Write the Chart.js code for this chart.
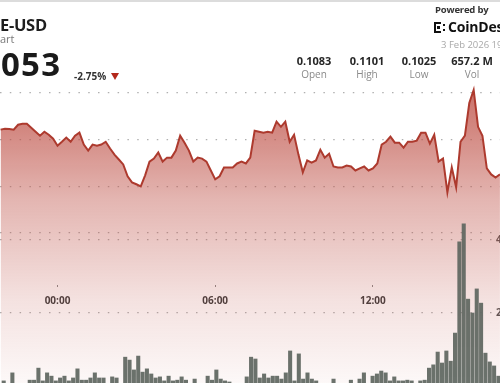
<!DOCTYPE html>
<html>
<head>
<meta charset="utf-8">
<script src="https://cdn.jsdelivr.net/npm/chart.js@4.4.1/dist/chart.umd.min.js"></script>
<style>
  html, body { margin: 0; padding: 0; background: #fff; }
  body { width: 500px; height: 383px; overflow: hidden; position: relative; font-family: "Open Sans", sans-serif; color: #222; }
  #wrap { position: absolute; left: 0; top: 0; width: 500px; height: 383px; }
  .topline { position: absolute; left: 0; top: 0; width: 500px; height: 2px; background: #dcdcdc; z-index: 3; }
  .t { position: absolute; white-space: nowrap; z-index: 2; line-height: 1; }
  .stat { position: absolute; width: 70px; text-align: center; white-space: nowrap; z-index: 2; line-height: 1; }
  .val { font-size: 11px; font-weight: 700; color: #262626; }
  .lab { font-size: 10px; color: #8a8a8a; }
  .logo { position: absolute; z-index: 2; background: #111; }
</style>
</head>
<body>
<div class="topline"></div>
<div id="wrap"><canvas id="chart"></canvas></div>

<div class="t" style="left:0;top:17px;font-size:16.5px;font-weight:700;color:#1e1e1e;letter-spacing:-0.3px;">E-USD</div>
<div class="t" style="left:0;top:33px;font-size:11px;color:#7a7a7a;">art</div>
<div class="t" style="left:1px;top:47px;font-size:33px;font-weight:700;color:#1a1a1a;letter-spacing:1.2px;">053</div>
<div class="t" style="left:74px;top:71px;font-size:10px;font-weight:700;color:#333;">-2.75%</div>
<div class="t" style="left:111px;top:73px;width:0;height:0;border-left:4px solid transparent;border-right:4px solid transparent;border-top:7px solid #b3271b;"></div>

<div class="t" style="left:435px;top:5px;font-size:9.5px;font-weight:700;color:#333;letter-spacing:-0.2px;">Powered by</div>
<div class="logo" style="left:434px;top:22px;width:2px;height:11px;"></div>
<div class="logo" style="left:434px;top:22px;width:7px;height:2px;"></div>
<div class="logo" style="left:434px;top:31px;width:7px;height:2px;"></div>
<div class="logo" style="left:437px;top:26px;width:3px;height:3px;"></div>
<div class="logo" style="left:443px;top:24px;width:2px;height:2px;"></div>
<div class="logo" style="left:443px;top:29px;width:2px;height:2px;"></div>
<div class="t" style="left:448px;top:20px;font-size:14px;font-weight:700;color:#111;letter-spacing:-0.2px;">CoinDesk</div>
<div class="t" style="left:441px;top:40px;font-size:9.5px;color:#a8a8a8;">3 Feb 2026 19</div>

<div class="stat val" style="left:279px;top:55px;">0.1083</div>
<div class="stat lab" style="left:279px;top:69px;">Open</div>
<div class="stat val" style="left:332px;top:55px;">0.1101</div>
<div class="stat lab" style="left:332px;top:69px;">High</div>
<div class="stat val" style="left:384px;top:55px;">0.1025</div>
<div class="stat lab" style="left:384px;top:69px;">Low</div>
<div class="stat val" style="left:437px;top:55px;">657.2 M</div>
<div class="stat lab" style="left:437px;top:69px;">Vol</div>

<script>
// price every 10 minutes, first point at 21:50 of the previous day
const startMin = -130;
const stepMin = 10;
const prices = [
  0.10843, 0.10847, 0.10846, 0.10843, 0.10864, 0.10868, 0.10868, 0.10851, 0.10834, 0.10817,
  0.10834, 0.10821, 0.10804, 0.10774, 0.10791, 0.10809, 0.10791, 0.10817, 0.10830, 0.10779,
  0.10753, 0.10779, 0.10774, 0.10779, 0.10791, 0.10762, 0.10736, 0.10715, 0.10694, 0.10643,
  0.10617, 0.10609, 0.10600, 0.10647, 0.10706, 0.10719, 0.10745, 0.10706, 0.10723, 0.10723,
  0.10753, 0.10817, 0.10787, 0.10753, 0.10706, 0.10723, 0.10719, 0.10706, 0.10668, 0.10630,
  0.10643, 0.10681, 0.10681, 0.10681, 0.10698, 0.10706, 0.10698, 0.10723, 0.10838, 0.10834,
  0.10830, 0.10834, 0.10830, 0.10877, 0.10855, 0.10877, 0.10791, 0.10821, 0.10736, 0.10660,
  0.10711, 0.10702, 0.10711, 0.10757, 0.10723, 0.10740, 0.10685, 0.10681, 0.10681, 0.10689,
  0.10685, 0.10668, 0.10677, 0.10685, 0.10668, 0.10677, 0.10698, 0.10779, 0.10791, 0.10813,
  0.10787, 0.10787, 0.10766, 0.10791, 0.10791, 0.10796, 0.10830, 0.10830, 0.10783, 0.10821,
  0.10706, 0.10719, 0.10574, 0.10681, 0.10596, 0.10791, 0.10817, 0.10957, 0.11013, 0.10855,
  0.10817, 0.10677, 0.10651, 0.10638, 0.10651
];
// volume bars (millions)
const volumes = [
  1.4, 0.5, 3.6, 0.5, 0.5, 0.5, 1.6, 1.6, 4.9, 1.4,
  3.6, 2.7, 1.4, 2.2, 2.7, 1.4, 2.2, 4.7, 1.6, 1.6,
  2.2, 3.6, 2.2, 2.2, 0.5, 2.5, 2.2, 0.5, 7.9, 7.1,
  4.4, 8.2, 3.8, 4.7, 3.3, 2.2, 2.5, 1.4, 2.7, 1.4,
  1.6, 2.5, 1.6, 0.5, 1.9, 0.5, 0.5, 2.7, 1.6, 4.4,
  1.9, 1.4, 1.1, 0.5, 0.5, 0.5, 2.5, 7.9, 7.4, 2.2,
  3.3, 2.2, 2.7, 2.7, 1.9, 3.6, 9.6, 1.4, 8.8, 1.9,
  3.6, 1.9, 1.4, 0.5, 0.5, 0.5, 1.9, 0.5, 0.5, 0.5,
  1.6, 0.5, 1.9, 3.6, 0.5, 2.7, 3.3, 4.1, 3.6, 1.4,
  2.5, 1.4, 1.4, 1.6, 1.4, 0.5, 1.4, 1.6, 4.9, 5.8,
  9.3, 6.3, 9.6, 6.8, 14.5, 39.5, 44.4, 23.8, 20.0, 26.6,
  22.7, 9.0, 6.6, 5.5, 2.7
];
const timeTicks = [0, 360, 720];          // 00:00, 06:00, 12:00
const volTicks = [20, 40];                // 20M, 40M
const priceGrid = [0.104, 0.106, 0.108, 0.110];

const times = prices.map((p, i) => startMin + i * stepMin);

function hhmm(m){
  let h = Math.floor(((m / 60) % 24 + 24) % 24);
  let mm = ((m % 60) + 60) % 60;
  return String(h).padStart(2, "0") + ":" + String(mm).padStart(2, "0");
}

const dotColor = "rgba(150,150,150,0.75)";
const font = {family: "Open Sans", size: 10, weight: "bold"};

// volume labels sit just inside the right edge
const mctx = document.createElement("canvas").getContext("2d");
mctx.font = "bold 10px 'Open Sans'";
const volLabelW = mctx.measureText("40M").width;

function zeroPad(scale){
  scale.paddingTop = 0; scale.paddingBottom = 0;
  scale.paddingLeft = 0; scale.paddingRight = 0;
  if(!scale.isHorizontal()) scale.width = 0;
}

function fillGradient(ctx){
  const chart = ctx.chart;
  if(!chart.chartArea) return "rgba(200,100,90,0.4)";
  const g = chart.ctx.createLinearGradient(0, 90, 0, 383);
  g.addColorStop(0, "rgba(190,80,70,0.80)");
  g.addColorStop(0.137, "rgba(190,80,70,0.68)");
  g.addColorStop(0.375, "rgba(190,80,70,0.42)");
  g.addColorStop(0.717, "rgba(190,80,70,0.17)");
  g.addColorStop(1, "rgba(190,80,70,0.04)");
  return g;
}

new Chart(document.getElementById("chart"), {
  type: "line",
  data: {
    datasets: [
      {
        type: "line",
        data: prices.map((p, i) => ({x: times[i], y: p})),
        xAxisID: "x",
        yAxisID: "y",
        borderColor: "#ad3a2e",
        borderWidth: 2,
        pointRadius: 0,
        tension: 0,
        fill: "start",
        backgroundColor: fillGradient,
        clip: false,
        order: 1
      },
      {
        type: "bar",
        data: volumes.map((v, j) => ({x: j, y: v})),
        xAxisID: "xv",
        yAxisID: "yv",
        backgroundColor: "rgba(94,102,96,0.92)",
        barThickness: 3.4,
        order: 0
      }
    ]
  },
  options: {
    responsive: true,
    maintainAspectRatio: false,
    animation: false,
    layout: {padding: 0, autoPadding: false},
    plugins: {legend: {display: false}, tooltip: {enabled: false}},
    scales: {
      x: {
        type: "linear",
        min: -131.3,
        max: 1010.1,
        position: {y: 0.10177},
        afterFit: zeroPad,
        afterBuildTicks: s => { s.ticks = timeTicks.map(v => ({value: v})); },
        grid: {display: true, drawOnChartArea: false, drawTicks: true, tickLength: 2, tickColor: "#8a8a8a", lineWidth: 1},
        border: {display: false},
        ticks: {autoSkip: false, maxRotation: 0, padding: 8, color: "#3b3b3b", font: font, callback: v => hhmm(v)}
      },
      xv: {
        type: "linear",
        display: false,
        min: -0.46,
        max: 114.75,
        bounds: "data",
        offset: false
      },
      y: {
        type: "linear",
        position: "left",
        min: 0.097571,
        max: 0.113986,
        afterFit: zeroPad,
        ticks: {display: false, stepSize: 0.002, includeBounds: false},
        grid: {
          drawTicks: false,
          lineWidth: 1.3,
          color: c => (c.tick && priceGrid.some(g => Math.abs(g - c.tick.value) < 0.0001)) ? dotColor : "transparent"
        },
        border: {display: false, dash: [1.5, 8.3]}
      },
      yv: {
        type: "linear",
        position: "right",
        min: 0.822,
        max: 105.75,
        afterFit: zeroPad,
        ticks: {
          stepSize: 20, includeBounds: false, mirror: true, padding: volLabelW - 4,
          color: "#555", font: font,
          callback: v => volTicks.includes(v) ? v + "M" : ""
        },
        grid: {
          drawTicks: false,
          lineWidth: 1.3,
          color: c => (c.tick && volTicks.includes(c.tick.value)) ? dotColor : "transparent"
        },
        border: {display: false, dash: [1.5, 8.3]}
      }
    }
  }
});
</script>
</body>
</html>
